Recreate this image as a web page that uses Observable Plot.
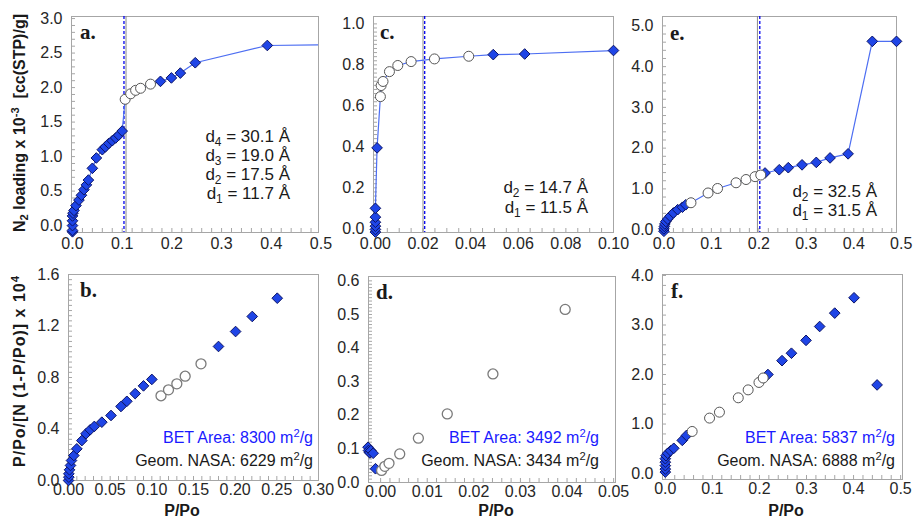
<!DOCTYPE html>
<html><head><meta charset="utf-8">
<script src="https://cdn.jsdelivr.net/npm/d3@7"></script>
<script src="https://cdn.jsdelivr.net/npm/@observablehq/plot@0.6"></script>
<style>
body{margin:0;background:#fff;}
#chart{position:relative;width:913px;height:519px;overflow:hidden;font-family:"Liberation Sans",Arial,sans-serif;color:#1a1a1a;}
.t{position:absolute;white-space:nowrap;}
.note{font-size:17px;text-align:right;}
.bet{font-size:16px;text-align:right;line-height:23px;}
.lab{font-family:"Liberation Serif","Times New Roman",serif;font-weight:bold;font-size:21px;line-height:21px;}
.ytitle{font-weight:bold;font-size:16px;transform:translate(-50%,-50%) rotate(-90deg);}
.xtitle{font-weight:bold;font-size:16px;transform:translate(-50%,-50%);}
sub{font-size:0.7em;vertical-align:-0.3em;line-height:0;}
sup{font-size:0.7em;vertical-align:0.5em;line-height:0;}
</style></head>
<body><div id="chart">
<div class="t ytitle" style="left:20px;top:123px;">N<sub>2</sub> loading x 10<sup>-3</sup>&nbsp; [cc(STP)/g]</div>
<div class="t ytitle" style="left:20px;top:371px;letter-spacing:1px;">P/Po/[N (1-P/Po)] x 10<sup>4</sup></div>
<div class="t xtitle" style="left:182px;top:511px;">P/Po</div>
<div class="t xtitle" style="left:496px;top:511px;">P/Po</div>
<div class="t xtitle" style="left:786px;top:511px;">P/Po</div>
<div class="t lab" style="left:80px;top:22px;">a.</div>
<div class="t lab" style="left:380px;top:22px;">c.</div>
<div class="t lab" style="left:670px;top:23px;">e.</div>
<div class="t lab" style="left:80px;top:280px;">b.</div>
<div class="t lab" style="left:376px;top:282px;">d.</div>
<div class="t lab" style="left:671px;top:281px;">f.</div>
<div class="t note" style="right:623px;top:127px;line-height:19px;">d<sub>4</sub> = 30.1 Å<br>d<sub>3</sub> = 19.0 Å<br>d<sub>2</sub> = 17.5 Å<br>d<sub>1</sub> = 11.7 Å</div>
<div class="t note" style="right:325px;top:178px;line-height:20px;">d<sub>2</sub> = 14.7 Å<br>d<sub>1</sub> = 11.5 Å</div>
<div class="t note" style="right:36px;top:183px;line-height:18.5px;">d<sub>2</sub> = 32.5 Å<br>d<sub>1</sub> = 31.5 Å</div>
<div class="t bet" style="right:600px;top:426px;"><span style="color:#1a1aff">BET Area: 8300 m<sup>2</sup>/g</span><br>Geom. NASA: 6229 m<sup>2</sup>/g</div>
<div class="t bet" style="right:314px;top:426px;"><span style="color:#1a1aff">BET Area: 3492 m<sup>2</sup>/g</span><br>Geom. NASA: 3434 m<sup>2</sup>/g</div>
<div class="t bet" style="right:18px;top:426px;"><span style="color:#1a1aff">BET Area: 5837 m<sup>2</sup>/g</span><br>Geom. NASA: 6888 m<sup>2</sup>/g</div>
</div>
<script>
// ---------- Panel a: isotherm ----------
const aDiamX = [0, 0, 0, 0, 0, 0.001, 0.003, 0.007, 0.013, 0.018, 0.023, 0.028, 0.032, 0.040, 0.048, 0.060, 0.066, 0.073, 0.080, 0.087, 0.093, 0.100, 0.177, 0.199, 0.217, 0.247, 0.392];
const aDiamY = [-0.09, -0.07, 0.0, 0.07, 0.14, 0.18, 0.22, 0.29, 0.37, 0.44, 0.52, 0.59, 0.66, 0.83, 0.98, 1.10, 1.14, 1.19, 1.23, 1.27, 1.31, 1.37, 2.09, 2.14, 2.21, 2.36, 2.61];
const aCircX = [0.106, 0.117, 0.127, 0.137, 0.157];
const aCircY = [1.83, 1.91, 1.96, 1.99, 2.05];
const aLineEndX = [0.62];
const aLineEndY = [2.63];
const aMarkGray = [0.1077];
const aMarkBlue = [0.1036];
const aXTicks = [0, 0.1, 0.2, 0.3, 0.4, 0.5];
const aYTicks = [0, 0.5, 1.0, 1.5, 2.0, 2.5, 3.0];

// ---------- Panel c: isotherm ----------
const cDiamX = [0, 0, 0, 0, 0, 0, 0.0007, 0.0495, 0.0627, 0.100];
const cDiamY = [-0.016, -0.003, 0.013, 0.032, 0.057, 0.10, 0.395, 0.85, 0.853, 0.87];
const cCircX = [0.0021, 0.0024, 0.0032, 0.0059, 0.0094, 0.015, 0.0248, 0.0392];
const cCircY = [0.645, 0.699, 0.719, 0.767, 0.797, 0.816, 0.829, 0.842];
const cMarkGray = [0.0200];
const cMarkBlue = [0.0207];
const cXTicks = [0, 0.02, 0.04, 0.06, 0.08, 0.10];
const cYTicks = [0, 0.2, 0.4, 0.6, 0.8, 1.0];

// ---------- Panel e: isotherm ----------
const eDiamX = [0, 0, 0.001, 0.002, 0.004, 0.008, 0.013, 0.020, 0.029, 0.039, 0.046, 0.213, 0.243, 0.262, 0.291, 0.321, 0.350, 0.388, 0.439, 0.490];
const eDiamY = [-0.04, 0.02, 0.08, 0.14, 0.20, 0.26, 0.33, 0.41, 0.49, 0.55, 0.61, 1.39, 1.47, 1.52, 1.59, 1.65, 1.76, 1.86, 4.62, 4.62];
const eCircX = [0.057, 0.093, 0.113, 0.152, 0.173, 0.192, 0.204];
const eCircY = [0.66, 0.90, 1.01, 1.15, 1.23, 1.30, 1.34];
const eMarkGray = [0.197];
const eMarkBlue = [0.202];
const eXTicks = [0, 0.1, 0.2, 0.3, 0.4, 0.5];
const eYTicks = [0, 1, 2, 3, 4, 5];

// ---------- Panel b: BET plot ----------
const bDiamX = [0, 0.0004, 0.0004, 0.0012, 0.0024, 0.0036, 0.0064, 0.010, 0.016, 0.021, 0.026, 0.031, 0.040, 0.051, 0.063, 0.070, 0.080, 0.090, 0.100, 0.180, 0.2005, 0.2205, 0.2505];
const bDiamY = [0.0, 0.026, 0.052, 0.083, 0.117, 0.155, 0.194, 0.246, 0.31, 0.363, 0.394, 0.42, 0.453, 0.505, 0.575, 0.615, 0.675, 0.735, 0.785, 1.041, 1.157, 1.274, 1.416];
const bCircX = [0.111, 0.120, 0.130, 0.140, 0.159];
const bCircY = [0.658, 0.704, 0.751, 0.810, 0.906];
const bXTicks = [0, 0.05, 0.10, 0.15, 0.20, 0.25, 0.30];
const bYTicks = [0, 0.4, 0.8, 1.2, 1.6];

// ---------- Panel d: BET plot ----------
const dDiamX = [-0.0027, -0.0026, -0.0024, -0.0023, -0.0021, -0.0016, -0.0011];
const dDiamY = [0.105, 0.095, 0.090, 0.088, 0.095, 0.087, 0.041];
const dCircX = [0.0002, 0.0009, 0.0018, 0.0041, 0.0081, 0.0143, 0.0241, 0.0396];
const dCircY = [0.036, 0.048, 0.057, 0.085, 0.132, 0.204, 0.323, 0.515];
const dXTicks = [0, 0.01, 0.02, 0.03, 0.04, 0.05];
const dYTicks = [0, 0.1, 0.2, 0.3, 0.4, 0.5, 0.6];

// ---------- Panel f: BET plot ----------
const fDiamX = [0, 0, 0, 0, 0, 0.0015, 0.005, 0.011, 0.018, 0.036, 0.045, 0.218, 0.248, 0.268, 0.299, 0.328, 0.360, 0.401, 0.450];
const fDiamY = [0.03, 0.09, 0.16, 0.23, 0.30, 0.36, 0.41, 0.46, 0.51, 0.67, 0.77, 2.00, 2.28, 2.43, 2.69, 2.97, 3.24, 3.55, 1.79];
const fCircX = [0.057, 0.094, 0.115, 0.155, 0.176, 0.199, 0.208];
const fCircY = [0.85, 1.12, 1.24, 1.53, 1.69, 1.84, 1.93];
const fXTicks = [0, 0.1, 0.2, 0.3, 0.4, 0.5];
const fYTicks = [0, 1, 2, 3, 4];

// ---------- rendering ----------
const zip = (xs, ys) => xs.map((x, i) => ({x, y: ys[i]}));
const range = (a, b, s) => d3.range(Math.round((b - a) / s) + 1).map(i => +(a + i * s).toFixed(6));
const FRAME = "#a6a6a6", TICK = "#a6a6a6", LINE = "#4d6ef2";
const DFILL = "#1f45e6", DSTROKE = "#0c1466";
const chart = document.getElementById("chart");

function panel(c) {
  const fw = c.w - c.ml - c.mr, fh = c.h - c.mt - c.mb;
  const diam = zip(c.dx, c.dy), circ = zip(c.cx, c.cy);
  const marks = [
    Plot.ruleX(c.xMinor, {x: d => d, insetTop: fh - 4, stroke: TICK}),
    Plot.ruleY(c.yMinor, {y: d => d, insetRight: fw - 4, stroke: TICK}),
    Plot.frame({stroke: FRAME}),
    Plot.axisX(c.xTicks, {tickSize: 0, tickPadding: c.xPad, tickFormat: d3.format(c.xFmt), fontSize: 16, label: null}),
    Plot.axisY(c.yTicks, {tickSize: 0, tickPadding: 9, tickFormat: d3.format(c.yFmt), fontSize: 16, label: null})
  ];
  if (c.gray) marks.push(Plot.ruleX(c.gray, {stroke: "#8a8a8a", strokeWidth: 1}));
  if (c.blue) marks.push(Plot.ruleX(c.blue, {stroke: "#0000f0", strokeWidth: 1.3, strokeDasharray: "3,2"}));
  if (c.line) {
    const all = diam.concat(circ, c.extra || []).sort((p, q) => p.x - q.x || p.y - q.y);
    marks.push(Plot.line(all, {x: "x", y: "y", stroke: LINE, strokeWidth: 1.2, clip: true}));
  }
  marks.push(Plot.dot(diam, {x: "x", y: "y", symbol: "diamond2", r: 4.8, fill: DFILL, stroke: DSTROKE, strokeWidth: 1}));
  marks.push(Plot.dot(circ, {x: "x", y: "y", r: 5, fill: "white", stroke: c.cStroke, strokeWidth: c.cWidth}));
  const svg = Plot.plot({
    width: c.w, height: c.h,
    marginLeft: c.ml, marginRight: c.mr, marginTop: c.mt, marginBottom: c.mb,
    x: {domain: c.xDomain, label: null}, y: {domain: c.yDomain, label: null},
    style: {fontFamily: '"Liberation Sans", Arial, sans-serif', color: "#262626", background: "transparent", overflow: "visible"},
    marks
  });
  svg.style.position = "absolute";
  svg.style.left = c.left + "px";
  svg.style.top = c.top + "px";
  chart.insertBefore(svg, chart.firstChild);
}

panel({left: 0, top: 0, w: 330, h: 262, ml: 71, mr: 12, mt: 16, mb: 30,
  xDomain: [-0.002, 0.495], yDomain: [-0.1, 3.03],
  xTicks: aXTicks, yTicks: aYTicks, xMinor: range(0, 0.48, 0.02), yMinor: range(0, 3.0, 0.1),
  xFmt: ".1f", yFmt: ".1f", xPad: 5,
  dx: aDiamX, dy: aDiamY, cx: aCircX, cy: aCircY, extra: zip(aLineEndX, aLineEndY),
  gray: aMarkGray, blue: aMarkBlue, line: true, cStroke: "#555", cWidth: 1});

panel({left: 330, top: 0, w: 290, h: 262, ml: 43, mr: 7, mt: 16, mb: 30,
  xDomain: [-0.0008, 0.1], yDomain: [-0.018, 1.036],
  xTicks: cXTicks, yTicks: cYTicks, xMinor: range(0, 0.095, 0.005), yMinor: range(0, 1.0, 0.02),
  xFmt: ".2f", yFmt: ".1f", xPad: 5,
  dx: cDiamX, dy: cDiamY, cx: cCircX, cy: cCircY,
  gray: cMarkGray, blue: cMarkBlue, line: true, cStroke: "#555", cWidth: 1});

panel({left: 620, top: 0, w: 293, h: 262, ml: 42, mr: 17, mt: 16, mb: 30,
  xDomain: [-0.003, 0.49], yDomain: [-0.07, 5.23],
  xTicks: eXTicks, yTicks: eYTicks, xMinor: range(0, 0.48, 0.02), yMinor: range(0, 5.0, 0.2),
  xFmt: ".1f", yFmt: ".1f", xPad: 5,
  dx: eDiamX, dy: eDiamY, cx: eCircX, cy: eCircY,
  gray: eMarkGray, blue: eMarkBlue, line: true, cStroke: "#555", cWidth: 1});

panel({left: 0, top: 262, w: 330, h: 257, ml: 68, mr: 12, mt: 12, mb: 39,
  xDomain: [0, 0.3], yDomain: [0, 1.6],
  xTicks: bXTicks, yTicks: bYTicks, xMinor: range(0.01, 0.29, 0.01), yMinor: range(0.04, 1.56, 0.04),
  xFmt: ".2f", yFmt: ".1f", xPad: 3,
  dx: bDiamX, dy: bDiamY, cx: bCircX, cy: bCircY, line: false, cStroke: "#7a7a7a", cWidth: 1.3});

panel({left: 330, top: 262, w: 290, h: 257, ml: 38, mr: 5, mt: 14, mb: 37,
  xDomain: [-0.0026, 0.0504], yDomain: [0, 0.613],
  xTicks: dXTicks, yTicks: dYTicks, xMinor: range(0, 0.05, 0.002), yMinor: range(0.01, 0.6, 0.01),
  xFmt: ".2f", yFmt: ".1f", xPad: 3,
  dx: dDiamX, dy: dDiamY, cx: dCircX, cy: dCircY, line: false, cStroke: "#7a7a7a", cWidth: 1.3});

panel({left: 620, top: 262, w: 293, h: 257, ml: 42, mr: 11, mt: 12, mb: 40,
  xDomain: [-0.006, 0.504], yDomain: [-0.12, 4.02],
  xTicks: fXTicks, yTicks: fYTicks, xMinor: range(0, 0.5, 0.02), yMinor: range(0, 4.0, 0.2),
  xFmt: ".1f", yFmt: ".1f", xPad: 3,
  dx: fDiamX, dy: fDiamY, cx: fCircX, cy: fCircY, line: false, cStroke: "#555", cWidth: 1});
</script>
</body></html>
